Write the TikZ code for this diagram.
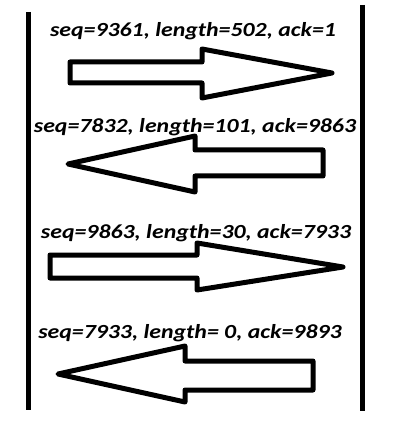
\documentclass[tikz,border=0pt]{standalone}
\usepackage{fontspec}
\setmainfont{Carlito}
\begin{document}
\begin{tikzpicture}[x=1pt,y=-1pt,
  wall/.style={line width=5pt},
  bigarrow/.style={draw=black,line width=5pt,line join=round,fill=white},
  lbl/.style={font=\fontsize{20}{24}\selectfont\bfseries\itshape,inner sep=0pt,anchor=base,xscale=1.19}]
\useasboundingbox (0,0) rectangle (418,430);
\coordinate (l1) at (28,12);
\coordinate (l2) at (28,410);
\coordinate (r1) at (362,5);
\coordinate (r2) at (362,411);
\draw[wall] (l1) -- (l2);
\draw[wall] (r1) -- (r2);
% arrow 1
\draw[bigarrow] (70,62) -- (202,62) -- (202,49) -- (332,73) -- (202,98) -- (202,83) -- (70,83) -- cycle;
\node[lbl] (t1) at (193,37) {seq=9361, length=502, ack=1};
% arrow 2
\draw[bigarrow] (68,164) -- (195,136) -- (195,150) -- (323,150) -- (323,176) -- (195,176) -- (195,192) -- cycle;
\node[lbl] (t2) at (195,133) {seq=7832, length=101, ack=9863};
% arrow 3
\draw[bigarrow] (50,255) -- (197,255) -- (197,243) -- (343,267) -- (197,290) -- (197,278) -- (50,278) -- cycle;
\node[lbl] (t3) at (196,238) {seq=9863, length=30, ack=7933};
% arrow 4
\draw[bigarrow] (58,374) -- (185,346) -- (185,361) -- (313,361) -- (313,390) -- (185,390) -- (185,402) -- cycle;
\node[lbl] (t4) at (190,338) {seq=7933, length= 0, ack=9893};
\end{tikzpicture}
\end{document}
